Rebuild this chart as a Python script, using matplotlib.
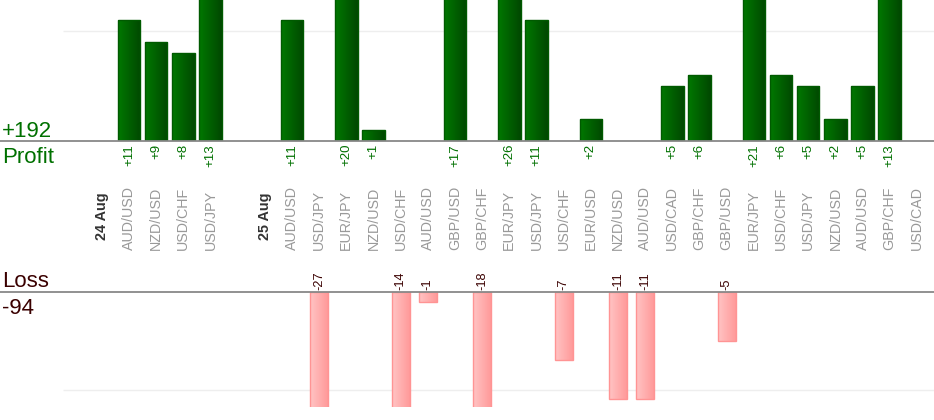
import numpy as np
import matplotlib
matplotlib.use("Agg")
import matplotlib.pyplot as plt
from matplotlib import transforms
from matplotlib.colors import LinearSegmentedColormap

plt.rcParams['font.family'] = ['Liberation Sans', 'DejaVu Sans']

# data
dates = ["24 Aug", "25 Aug"]
pairs_24 = ["AUD/USD", "NZD/USD", "USD/CHF", "USD/JPY"]
pnl_24 = [11, 9, 8, 13]
pairs_25 = ["AUD/USD", "USD/JPY", "EUR/JPY", "NZD/USD", "USD/CHF", "AUD/USD",
            "GBP/USD", "GBP/CHF", "EUR/JPY", "USD/JPY", "USD/CHF", "EUR/USD",
            "NZD/USD", "AUD/USD", "USD/CAD", "GBP/CHF", "GBP/USD", "EUR/JPY",
            "USD/CHF", "USD/JPY", "NZD/USD", "AUD/USD", "GBP/CHF", "USD/CAD"]
pnl_25 = [11, -27, 20, 1, -14, -1, 17, -18, 26, 11, -7, 2,
          -11, -11, 5, 6, -5, 21, 6, 5, 2, 5, 13, 0]

# build slot list: date label, its trades, one empty spacer between days
labels, kinds, values = [], [], []
for i, (d, prs, pnl) in enumerate([(dates[0], pairs_24, pnl_24), (dates[1], pairs_25, pnl_25)]):
    if i > 0:
        labels.append(""); kinds.append("gap"); values.append(0)
    labels.append(d); kinds.append("date"); values.append(0)
    for p, v in zip(prs, pnl):
        labels.append(p); kinds.append("pair"); values.append(v)
values = np.array(values)
xs = np.arange(len(labels))

total_profit = values[values > 0].sum()
total_loss = values[values < 0].sum()

W, H = 934, 420
fig = plt.figure(figsize=(W / 100, H / 100), dpi=100)

# pixel layout
x0_px, step_px = 101.8, 27.17
xlim = (-x0_px / step_px, (W - x0_px) / step_px)
top_base, loss_base, loss_bottom = 141, 292, 407
px_per_unit_p, px_per_unit_l = 11.0, 9.75

ax_p = fig.add_axes([0, 1 - top_base / H, 1, top_base / H])
ax_l = fig.add_axes([0, 1 - loss_bottom / H, 1, (loss_bottom - loss_base) / H])

green_cm = LinearSegmentedColormap.from_list("g", ["#007800", "#004800"])
pink_cm = LinearSegmentedColormap.from_list("p", ["#ffc4c4", "#ff9a9a"])
grad = np.linspace(0, 1, 64).reshape(1, -1)


def grad_bars(ax, x, h, width, cmap, edge):
    bars = ax.bar(x, h, width=width, facecolor="none", edgecolor=edge, linewidth=1, zorder=3)
    for r in bars:
        bx, by = r.get_x(), r.get_y()
        bw, bh = r.get_width(), r.get_height()
        ax.imshow(grad, extent=[bx, bx + bw, by, by + bh], aspect="auto",
                  cmap=cmap, zorder=2, interpolation="bilinear")


pos = values > 0
neg = values < 0
grad_bars(ax_p, xs[pos], values[pos], 0.83, green_cm, "#005a00")
grad_bars(ax_l, xs[neg], values[neg], 0.66, pink_cm, "#ff9494")

ax_p.set_xlim(*xlim)
ax_p.set_ylim(0, top_base / px_per_unit_p)
ax_l.set_xlim(*xlim)
ax_l.set_ylim(-(loss_bottom - loss_base) / px_per_unit_l, 0)

grid_start = (63 - x0_px) / step_px
ax_p.hlines(10, grid_start, xlim[1], color="#eeeeee", lw=1, zorder=1)
ax_l.hlines(-10, grid_start, xlim[1], color="#eeeeee", lw=1, zorder=1)

for ax in (ax_p, ax_l):
    ax.axis("off")
    ax.patch.set_alpha(0)

# baselines across full width
fig.add_artist(plt.Line2D([0, 1], [1 - top_base / H] * 2, color="#888888", lw=1.3))
fig.add_artist(plt.Line2D([0, 1], [1 - loss_base / H] * 2, color="#888888", lw=1.3))

tr = transforms.blended_transform_factory(ax_p.transData, fig.transFigure)


def fy(px):
    return 1 - px / H


for x, lab, kind, v in zip(xs, labels, kinds, values):
    if kind == "date":
        fig.text(x, fy(240), lab, transform=tr, rotation=90, ha="center", va="bottom",
                 fontsize=10.4, fontweight="bold", color="#333333")
    elif kind == "pair":
        fig.text(x, fy(250), lab, transform=tr, rotation=90, ha="center", va="bottom",
                 fontsize=10.3, color="#999999")
        if v > 0:
            fig.text(x, fy(144), f"+{v}", transform=tr, rotation=90, ha="center", va="top",
                     fontsize=9.5, color="#007000")
        elif v < 0:
            fig.text(x, fy(290), f"{v}", transform=tr, rotation=90, ha="center", va="bottom",
                     fontsize=9.2, color="#3a0000")

fig.text(2 / W, fy(137), f"+{total_profit}", ha="left", va="baseline", fontsize=16, color="#007000")
fig.text(2 / W, fy(163), "Profit", ha="left", va="baseline", fontsize=16, color="#007000")
fig.text(2 / W, fy(287), "Loss", ha="left", va="baseline", fontsize=16, color="#3a0000")
fig.text(2 / W, fy(314), f"{total_loss}", ha="left", va="baseline", fontsize=16, color="#3a0000")

fig.savefig("out.png", dpi=100)
